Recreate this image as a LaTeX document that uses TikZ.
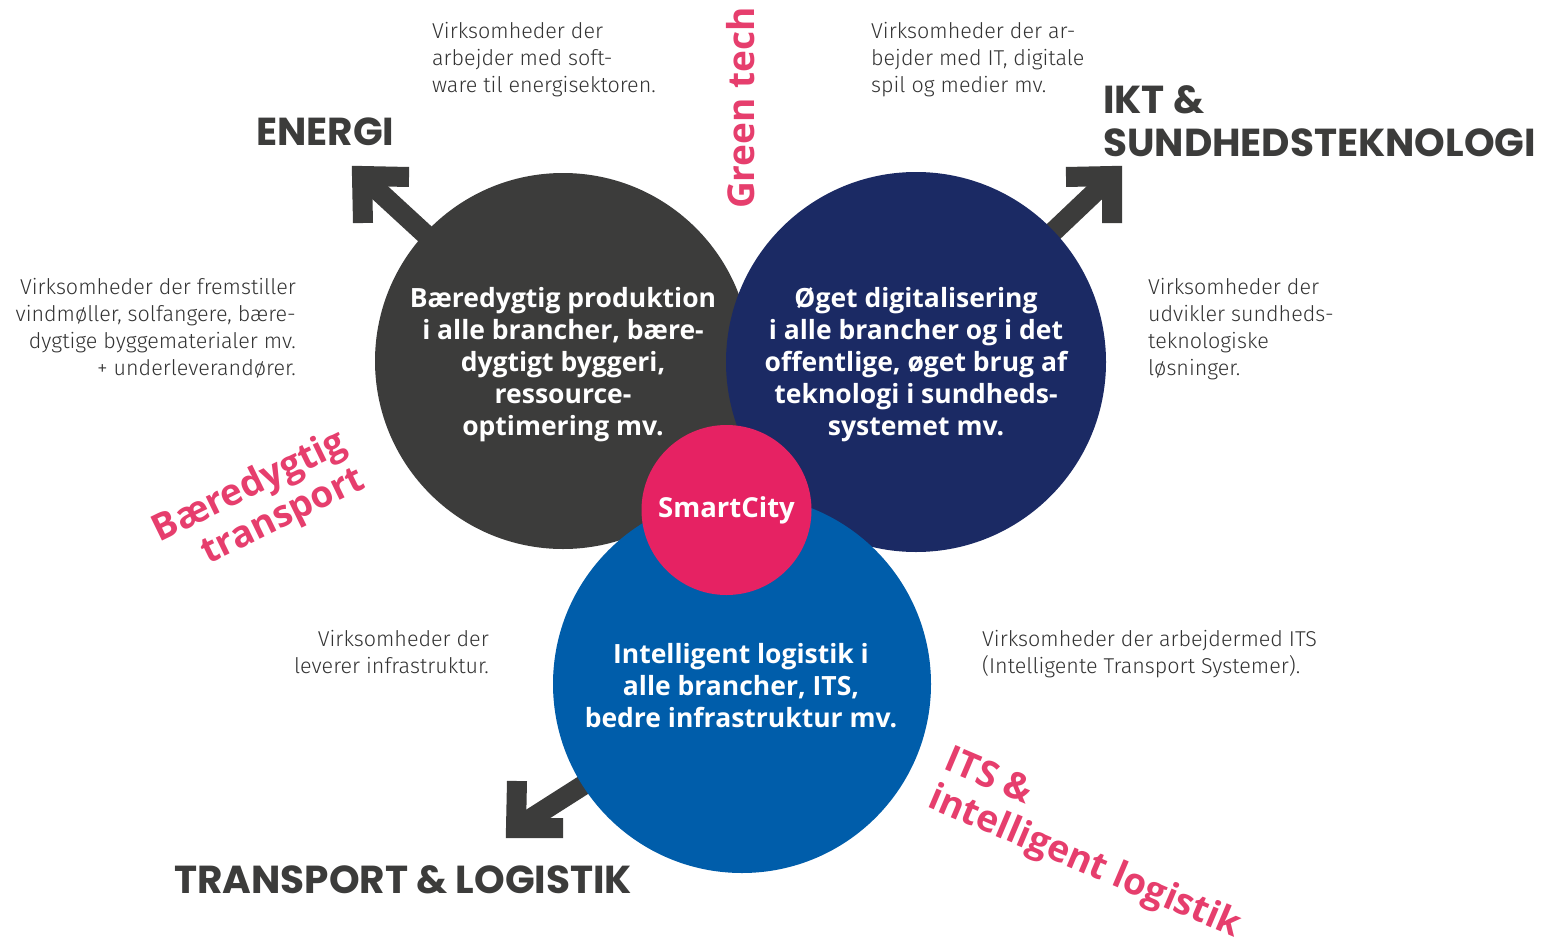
\documentclass[tikz,border=0pt]{standalone}
\usepackage{fontspec}
\setmainfont{Fira Sans}
\newfontfamily\headfont{Poppins}
\newfontfamily\lightfont{Fira Sans Light}
\newfontfamily\boldfont{Open Sans}
\usetikzlibrary{backgrounds}
\definecolor{dgrey}{HTML}{3C3C3B}
\definecolor{navy}{HTML}{1B2A64}
\definecolor{mblue}{HTML}{005DAA}
\definecolor{pinkc}{HTML}{E62263}
\definecolor{pinkt}{HTML}{E63E6D}
\definecolor{smalltxt}{HTML}{333333}
\begin{document}
\begin{tikzpicture}[x=1pt,y=-1pt,
  bigcircle/.style={circle, inner sep=0pt, minimum size=#1},
  circletext/.style={inner sep=0pt, text=white, align=center,
    font=\boldfont\fontsize{26.5}{32}\selectfont\bfseries},
  shaft/.style={draw=dgrey, line width=20pt},
  chev/.style={draw=dgrey, line width=20pt, miter limit=10, line join=miter},
  heading/.style={inner sep=0pt, text=dgrey, font=\headfont\fontsize{39}{43}\selectfont\bfseries},
  smalltext/.style={inner sep=0pt, text=smalltxt, font=\lightfont\fontsize{21.5}{27}\selectfont},
  pinklabel/.style={inner sep=0pt, text=pinkt, font=\boldfont\fontsize{37}{41}\selectfont\bfseries}
]
\useasboundingbox (0,0) rectangle (1552,942);

% circles
\node[bigcircle=376pt, fill=dgrey] (prod) at (563,361) {};
\node[circletext] (prodtxt) at (563,365)
  {Bæredygtig produktion\\i alle brancher, bære-\\dygtigt byggeri,\\ressource-\\optimering mv.};
\node[bigcircle=380pt, fill=navy] (digi) at (916,362) {};
\node[circletext] (digitxt) at (916,365)
  {Øget digitalisering\\i alle brancher og i det\\offentlige, øget brug af\\teknologi i sundheds-\\systemet mv.};
\node[bigcircle=378pt, fill=mblue] (logi) at (742,684) {};
\node[circletext] (logitxt) at (741,686)
  {Intelligent logistik i\\alle brancher, ITS,\\bedre infrastruktur mv.};
\node[circle, inner sep=0pt, minimum size=170pt, fill=pinkc, text=white,
  font=\boldfont\fontsize{27.5}{30}\selectfont\bfseries] (smart) at (726.5,510) {SmartCity};

% arrows (shafts behind circles)
\coordinate (eCorner) at (362,176);
\coordinate (iCorner) at (1112,176);
\coordinate (tCorner) at (516,828);
\coordinate (eA) at (409,177);
\coordinate (eB) at (363,223);
\coordinate (iA) at (1066,177);
\coordinate (iB) at (1112,223);
\coordinate (tA) at (517,781);
\coordinate (tB) at (563,828);
\begin{scope}[on background layer]
  \fill[white] (0,0) rectangle (1552,942);
  \draw[shaft] (prod.center) -- (eCorner);
  \draw[shaft] (digi.center) -- (iCorner);
  \draw[shaft] (logi.center) -- (tCorner);
\end{scope}
\draw[chev] (eA) -- (eCorner) -- (eB);
\draw[chev] (iA) -- (iCorner) -- (iB);
\draw[chev] (tA) -- (tCorner) -- (tB);

% headings
\node[heading, anchor=base west] (energi) at (256,145) {ENERGI};
\node[heading, anchor=south west, align=left] (ikt) at (1103,157) {IKT \&\\SUNDHEDSTEKNOLOGI};
\node[heading, anchor=base west] (transp) at (174,893) {TRANSPORT \& LOGISTIK};

% small descriptive texts
\node[smalltext, anchor=north west, align=left] (t1) at (432,22)
  {Virksomheder der\\arbejder med soft-\\ware til energisektoren.};
\node[smalltext, anchor=north west, align=left] (t2) at (871,22)
  {Virksomheder der ar-\\bejder med IT, digitale\\spil og medier mv.};
\node[smalltext, anchor=north east, align=right] (t3) at (296,278)
  {Virksomheder der fremstiller\\vindmøller, solfangere, bære-\\dygtige byggematerialer mv.\\+ underleverandører.};
\node[smalltext, anchor=north west, align=left] (t4) at (1148,278)
  {Virksomheder der\\udvikler sundheds-\\teknologiske\\løsninger.};
\node[smalltext, anchor=north east, align=right] (t5) at (489,630)
  {Virksomheder der\\leverer infrastruktur.};
\node[smalltext, anchor=north west, align=left] (t6) at (982,630)
  {Virksomheder der arbejdermed ITS\\(Intelligente Transport Systemer).};

% pink rotated labels
\node[pinklabel, rotate=90] (green) at (741,108) {Green tech};
\node[pinklabel, rotate=26, align=right] (baer) at (259,506) {Bæredygtig\\transport};
\node[pinklabel, rotate=-23, align=left] (its) at (1092,845) {ITS \&\\intelligent logistik};
\end{tikzpicture}
\end{document}
